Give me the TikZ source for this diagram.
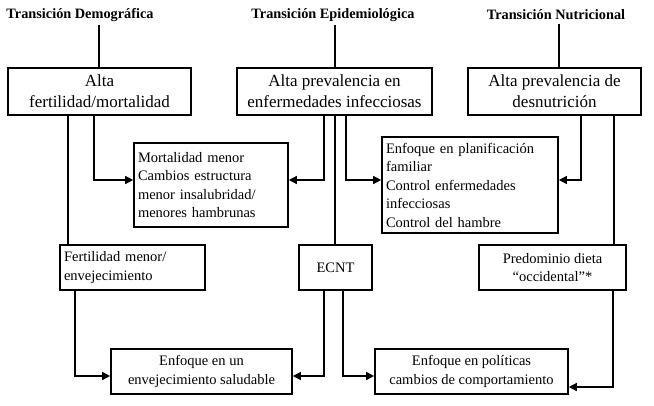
\documentclass[tikz,border=0pt]{standalone}
\usepackage{fontspec}
\setmainfont{Liberation Serif}
\usetikzlibrary{arrows.meta}
\tikzset{
  caja/.style={draw, line width=1.6pt, inner sep=2pt, font=\fontsize{14.5}{18.5}\selectfont},
  grande/.style={font=\fontsize{17}{21}\selectfont},
  titulo/.style={font=\bfseries\fontsize{14.3}{17}\selectfont},
  flecha/.style={line width=1.3pt, -{Triangle[length=8pt,width=8pt]}},
  linea/.style={line width=1.3pt}
}
\begin{document}
\begin{tikzpicture}[x=1pt,y=-1pt]
            \useasboundingbox (0,0) rectangle (654,405);

            \node[titulo] (t1) at (80,15) {Transición Demográfica};
            \node[titulo] (t2) at (333,15) {Transición Epidemiológica};
            \node[titulo] (t3) at (556,15) {Transición Nutricional};

            \node[caja, grande, minimum width=183pt, minimum height=47pt, align=center] (A) at (99.5,91.5) {Alta\\fertilidad/mortalidad};
            \node[caja, grande, minimum width=195pt, minimum height=47pt, align=center] (B) at (334.5,91.5) {Alta prevalencia en\\enfermedades infecciosas};
            \node[caja, grande, minimum width=173pt, minimum height=47pt, align=center] (C) at (554.5,91.5) {Alta prevalencia de\\desnutrición};

            \node[caja, minimum width=154pt, minimum height=84pt, align=left, text width=146pt] (D) at (211,185) {Mortalidad menor\\Cambios estructura\\menor insalubridad/\\menores hambrunas};
            \node[caja, minimum width=176pt, minimum height=96pt, align=left, text width=168pt] (E) at (470,185) {Enfoque en planificación\\familiar\\Control enfermedades\\infecciosas\\Control del hambre};

            \node[caja, minimum width=145pt, minimum height=45pt, align=left, text width=137pt] (F) at (132.5,267.5) {Fertilidad menor/\\envejecimiento};
            \node[caja, minimum width=73pt, minimum height=45pt] (G) at (335.5,267.5) {ECNT};
            \node[caja, minimum width=147pt, minimum height=45pt, align=center] (H) at (552.5,267.5) {Predominio dieta\\“occidental”*};

            \node[caja, minimum width=181pt, minimum height=45pt, align=center] (I) at (201.5,371.5) {Enfoque en un\\envejecimiento saludable};
            \node[caja, minimum width=193pt, minimum height=45pt, align=center] (J) at (471.5,371.5) {Enfoque en políticas\\cambios de comportamiento};

            \draw[linea] (t1.south -| 99,0) -- (A.north -| 99,0);
            \draw[linea] (t2.south -| 335,0) -- (B.north -| 335,0);
            \draw[linea] (t3.south -| 559,0) -- (C.north -| 559,0);

            \draw[flecha] (A.south -| 94,0) |- (D.west |- 0,180);
            \draw[flecha] (B.south -| 324,0) |- (D.east |- 0,180);
            \draw[flecha] (B.south -| 346,0) |- (E.west |- 0,180);
            \draw[flecha] (C.south -| 581,0) |- (E.east |- 0,180);

            \draw[linea] (A.south -| 68,0) -- (F.north -| 68,0);
            \draw[linea] (B.south -| 335,0) -- (G.north -| 335,0);
            \draw[linea] (C.south -| 614,0) -- (H.north -| 614,0);

            \draw[flecha] (F.south -| 75,0) |- (I.west |- 0,376);
            \draw[flecha] (G.south -| 324,0) |- (I.east |- 0,376);
            \draw[flecha] (G.south -| 343,0) |- (J.west |- 0,376);
            \draw[flecha] (H.south -| 613,0) |- (J.east |- 0,387);
        \end{tikzpicture}
\end{document}
